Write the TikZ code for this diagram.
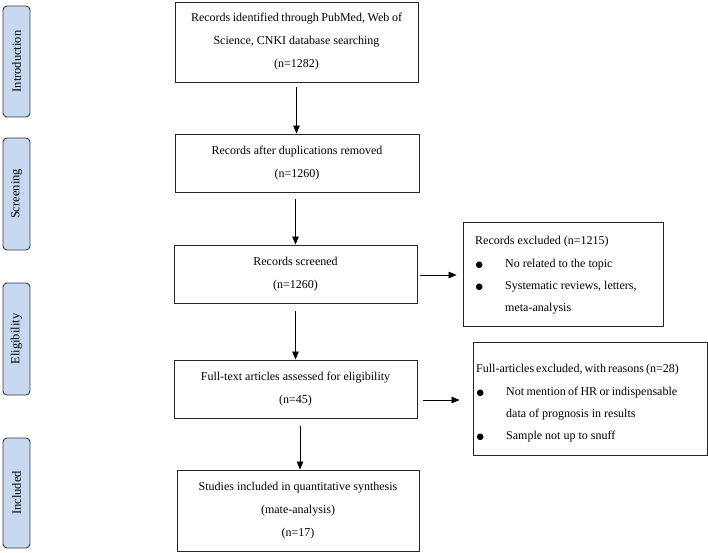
\documentclass[tikz,border=0pt]{standalone}
\usepackage{fontspec}
\setmainfont{Liberation Serif}
\newfontfamily\bulfont{DejaVu Sans}
\usetikzlibrary{arrows.meta}
\definecolor{stagefill}{HTML}{C6D9F1}
\definecolor{stageline}{HTML}{3A3A3A}
\newcommand{\bul}{\makebox[30pt][l]{\hspace*{0.5pt}{\bulfont\fontsize{8.5}{8.5}\selectfont ●}}}
\begin{document}
\begin{tikzpicture}[x=1pt,y=-1pt,
  stagebox/.style={draw=stageline, fill=stagefill, line width=0.9pt, rounded corners=4pt,
    minimum width=27pt, inner sep=0pt, font=\fontsize{12.5}{14}\selectfont},
  mainbox/.style={draw=black!85, line width=0.9pt, inner sep=0pt, align=center,
    font=\fontsize{12}{23}\selectfont},
  sidebox/.style={draw=black!85, line width=0.9pt, inner sep=0pt},
  sidetext/.style={inner sep=0pt, align=left, anchor=west, font=\fontsize{12}{22.3}\selectfont},
  arr/.style={line width=0.8pt, -{Triangle[length=8pt,width=6.5pt]}}
]
\useasboundingbox (0,0) rectangle (708,553);
% stage labels
\node[stagebox, minimum height=111pt] (s1) at (16.5,61.5) {\rotatebox{90}{Introduction}};
\node[stagebox, minimum height=112pt] (s2) at (16.5,194) {\rotatebox{90}{Screening}};
\node[stagebox, minimum height=112pt] (s3) at (16.5,339) {\rotatebox{90}{Eligibility}};
\node[stagebox, minimum height=110pt] (s4) at (16.5,493) {\rotatebox{90}{Included}};
% main boxes
\node[mainbox, minimum width=243pt, minimum height=80pt] (b1) at (296.5,42)
  {\makebox[211pt][s]{Records identified through PubMed, Web of}\\Science, CNKI database searching\\(n=1282)};
\node[mainbox, minimum width=244pt, minimum height=58pt] (b2) at (297,163)
  {Records after duplications removed\\(n=1260)};
\node[mainbox, minimum width=243pt, minimum height=58pt] (b3) at (295.5,274)
  {Records screened\\(n=1260)};
\node[mainbox, minimum width=243pt, minimum height=58pt] (b4) at (295.5,389)
  {Full-text articles assessed for eligibility\\(n=45)};
\node[mainbox, minimum width=242pt, minimum height=81pt] (b5) at (298,510.5)
  {Studies included in quantitative synthesis\\(mate-analysis)\\(n=17)};
% side boxes
\node[sidebox, minimum width=200pt, minimum height=104pt] (r1) at (563,274) {};
\node[sidetext] (r1t) at (475,275.5)
  {Records excluded (n=1215)\\\bul No related to the topic\\\bul Systematic reviews, letters,\\\hspace*{30pt}meta-analysis};
\node[sidebox, minimum width=234pt, minimum height=113pt] (r2) at (590,398.5) {};
\node[sidetext] (r2t) at (476,403.5)
  {\makebox[202pt][s]{Full-articles excluded, with reasons (n=28)}\\\bul \makebox[171pt][s]{Not mention of HR or indispensable}\\\hspace*{30pt}data of prognosis in results\\\bul Sample not up to snuff};
% connectors
\draw[arr, shorten <=5pt] (b1.south) -- (b1.south |- b2.north);
\draw[arr, shorten <=7pt] (b2.south -| b3.north) -- (b3.north);
\draw[arr, shorten <=8pt] (b3.south) -- (b4.north);
\draw[arr, shorten <=8pt] ([xshift=4.5pt]b4.south) -- ([xshift=4.5pt]b4.south |- b5.north);
\draw[arr, shorten <=3pt, shorten >=6pt] ([yshift=-1pt]b3.east) -- ([yshift=-1pt]b3.east -| r1.west);
\draw[arr, shorten <=6pt, shorten >=13pt] ([yshift=-11pt]b4.east) -- ([yshift=-11pt]b4.east -| r2.west);
\end{tikzpicture}
\end{document}
